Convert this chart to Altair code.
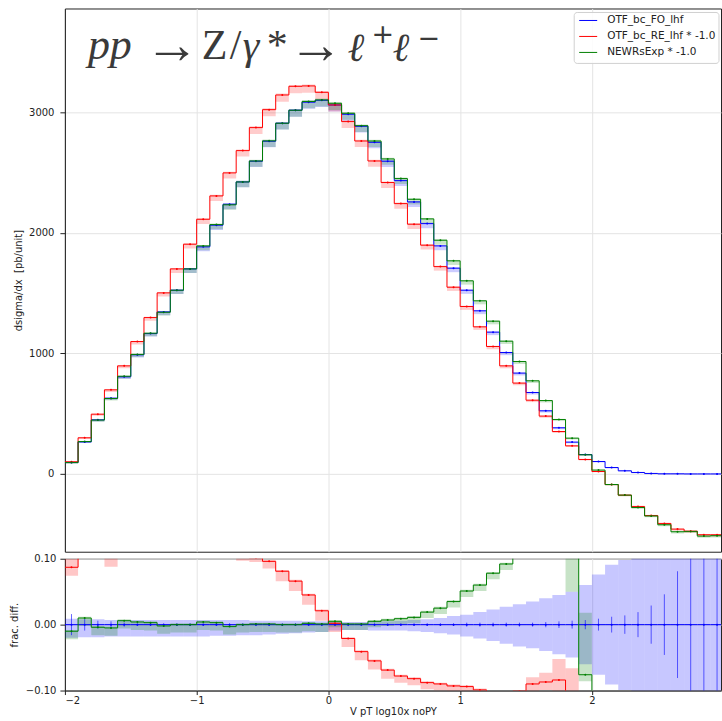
import altair as alt
import pandas as pd

# ---------------- data ----------------
series_names = ["OTF_bc_FO_lhf", "OTF_bc_RE_lhf * -1.0", "NEWRsExp * -1.0"]
series_colors = ["#0000ff", "#ff0000", "#008000"]

n_bins = 50
bin_lo = [round(-2.0 + 0.1 * i, 2) for i in range(n_bins)]
bin_w = 0.1

x_ticks = [-2, -1, 0, 1, 2]
y_ticks_top = [0, 1000, 2000, 3000]
y_ticks_bot = [-0.1, -0.05, 0.0, 0.05, 0.1]

blue_vals = [94, 265, 448, 628, 805, 988, 1164, 1344, 1524, 1701,
             1884, 2064, 2238, 2423, 2595, 2761, 2910, 3018, 3085, 3101,
             3062, 2985, 2885, 2752, 2595, 2434, 2257, 2077, 1892, 1707,
             1524, 1353, 1176, 1007, 836, 675, 523, 382, 263, 160,
             102, 52, 25, 11, 3, 0, 0, -1, -1, -1]
red_vals = [100, 299, 495, 697, 896, 1098, 1297, 1502, 1701, 1906,
            2113, 2307, 2498, 2683, 2874, 3023, 3145, 3217, 3220, 3167,
            3062, 2924, 2763, 2597, 2418, 2243, 2072, 1898, 1720, 1549,
            1389, 1220, 1057, 896, 753, 611, 479, 351, 232, 119,
            19, -89, -177, -271, -346, -412, -459, -476, -506, -506]
green_vals = [93, 268, 446, 625, 810, 991, 1167, 1341, 1524, 1701,
              1892, 2069, 2233, 2423, 2597, 2764, 2910, 3018, 3091, 3104,
              3076, 2993, 2890, 2763, 2614, 2451, 2279, 2116, 1939, 1768,
              1602, 1436, 1267, 1101, 932, 772, 608, 451, 296, 158,
              31, -89, -177, -280, -350, -423, -481, -478, -517, -514]

# fractional differences (lower panel)
blue_ratio = [0.0] * n_bins
red_ratio = [0.087, 0.13, 0.106, 0.105, 0.112, 0.112, 0.114, 0.117, 0.116, 0.12,
             0.121, 0.118, 0.116, 0.104, 0.101, 0.096, 0.081, 0.066, 0.045, 0.021,
             0.002, -0.021, -0.041, -0.055, -0.069, -0.078, -0.082, -0.088, -0.090, -0.093,
             -0.094, -0.099, -0.104, -0.110, -0.101, -0.090, -0.087, -0.084, -0.118, -0.26,
             -0.5, -0.5, -0.5, -0.5, -0.5, -0.5, -0.5, -0.5, -0.5, -0.5]
green_ratio = [-0.010, 0.010, -0.004, -0.005, 0.006, 0.004, 0.003, -0.002, 0.0, 0.0,
               0.004, 0.003, -0.003, 0.0, 0.001, 0.001, 0.0, 0.0, 0.002, 0.001,
               0.005, 0.001, 0.001, 0.005, 0.007, 0.009, 0.011, 0.019, 0.025, 0.035,
               0.051, 0.060, 0.078, 0.092, 0.115, 0.14, 0.16, 0.18, 0.125, -0.076,
               -0.5, -0.5, -0.5, -0.5, -0.5, -0.5, -0.5, -0.5, -0.5, -0.5]

# band extents below / above each ratio line
red_band_dn = [0.013, 0.015, 0.005, 0.017, 0.011, 0.011, 0.012, 0.015, 0.014, 0.018,
               0.019, 0.016, 0.014, 0.007, 0.006, 0.011, 0.015, 0.015, 0.015, 0.015,
               0.013, 0.013, 0.013, 0.013, 0.013, 0.010, 0.010, 0.010, 0.010, 0.010,
               0.010, 0.010, 0.010, 0.010, 0.010, 0.012, 0.012, 0.020, 0.030, 0.05,
               0.05, 0.05, 0.05, 0.05, 0.05, 0.05, 0.05, 0.05, 0.05, 0.05]
red_band_up = [0.013, 0.002, 0.002, 0.002, 0.002, 0.002, 0.002, 0.002, 0.002, 0.002,
               0.002, 0.002, 0.002, 0.002, 0.002, 0.002, 0.002, 0.002, 0.002, 0.002,
               0.002, 0.002, 0.002, 0.002, 0.002, 0.002, 0.002, 0.002, 0.002, 0.002,
               0.002, 0.002, 0.002, 0.002, 0.002, 0.010, 0.014, 0.032, 0.052, 0.05,
               0.05, 0.05, 0.05, 0.05, 0.05, 0.05, 0.05, 0.05, 0.05, 0.05]
green_band_dn = [0.012] * 20 + [0.009] * 18 + [0.075, 0.010] + [0.05] * 10
green_band_up = [0.002] * 38 + [0.10, 0.094] + [0.05] * 10

blue_band_lo = [-0.020, -0.019, -0.019, -0.018, -0.018, -0.018, -0.018, -0.018, -0.018, -0.018,
                -0.018, -0.017, -0.017, -0.016, -0.016, -0.015, -0.014, -0.013, -0.012, -0.011,
                -0.009, -0.008, -0.008, -0.009, -0.009, -0.009, -0.010, -0.011, -0.013, -0.015,
                -0.018, -0.021, -0.025, -0.029, -0.033, -0.036, -0.040, -0.045, -0.050, -0.060,
                -0.076, -0.091, -0.099, -0.2, -0.2, -0.2, -0.2, -0.2, -0.2, -0.2]
blue_band_hi = [0.009, 0.008, 0.008, 0.007, 0.007, 0.007, 0.007, 0.007, 0.007, 0.007,
                0.007, 0.007, 0.007, 0.007, 0.006, 0.006, 0.006, 0.006, 0.005, 0.005,
                0.004, 0.004, 0.004, 0.005, 0.005, 0.006, 0.007, 0.008, 0.010, 0.013,
                0.015, 0.019, 0.023, 0.027, 0.031, 0.035, 0.040, 0.045, 0.050, 0.060,
                0.076, 0.091, 0.098, 0.2, 0.2, 0.2, 0.2, 0.2, 0.2, 0.2]
blue_err = [0.016, 0.009, 0.006, 0.005, 0.003, 0.002, 0.002, 0.002, 0.002, 0.002,
            0.002, 0.002, 0.002, 0.002, 0.002, 0.002, 0.002, 0.002, 0.002, 0.002,
            0.002, 0.002, 0.002, 0.002, 0.002, 0.002, 0.002, 0.002, 0.002, 0.002,
            0.003, 0.003, 0.003, 0.003, 0.003, 0.003, 0.004, 0.005, 0.006, 0.007,
            0.009, 0.012, 0.014, 0.019, 0.029, 0.046, 0.081, 0.2, 0.2, 0.2]

# process label "pp → Z/γ* → ℓ⁺ℓ⁻", drawn in pieces like the math text of the original
title_pieces = ["pp", "→", "Z", "/", "γ", "*", "→", "ℓ", "+", "ℓ", "−"]
title_piece_x = [23, 80, 137, 165, 178, 202, 224, 283, 307, 328, 353]
title_piece_y = [51, 55, 51, 51, 51, 51, 55, 53, 35, 53, 39]
title_piece_size = [44, 55, 42, 42, 42, 42, 55, 40, 27, 40, 27]
title_piece_font = ["Liberation Serif", "Liberation Serif", "Liberation Serif", "Liberation Serif",
                    "Liberation Serif", "Liberation Serif", "Liberation Serif", "DejaVu Serif",
                    "DejaVu Sans", "DejaVu Serif", "DejaVu Sans"]
title_piece_style = ["italic", "normal", "normal", "normal", "italic", "normal", "normal",
                     "italic", "normal", "italic", "normal"]

# legend box layout (pixels inside the upper plot area)
legend_box = [510, 4, 655, 55]
legend_row_y = [12, 28, 44]
legend_line_x = [515, 533]
legend_text_x = 543

# ---------------- tables ----------------
FONT = "DejaVu Sans"
X_DOM = [-2.0, 2.98]
TOP_DOM = [-647, 3863]
BOT_DOM = [-0.1, 0.1]
TOP_BAND_DN, TOP_BAND_UP = 0.016, 0.003  # relative band width in the upper panel

top_vals = [blue_vals, red_vals, green_vals]
ratios = [blue_ratio, red_ratio, green_ratio]

line_rows, band_rows, dot_rows = [], [], []
rline_rows, rband_rows, rdot_rows, err_rows = [], [], [], []
for s, name in enumerate(series_names):
    vals = top_vals[s]
    rat = ratios[s]
    for i in range(n_bins + 1):
        j = min(i, n_bins - 1)
        x = round(-2.0 + bin_w * i, 2)
        line_rows.append({"x": x, "y": vals[j], "grp": name, "o": i})
        rline_rows.append({"x": x, "y": rat[j], "grp": name, "o": i})
    for i in range(n_bins):
        v = vals[i]
        lo, hi = bin_lo[i], round(bin_lo[i] + bin_w, 2)
        band_rows.append({"x": lo, "x2": hi, "y": v - TOP_BAND_DN * abs(v) - 6,
                          "y2": v + TOP_BAND_UP * abs(v) + 2, "grp": name})
        dot_rows.append({"x": lo + bin_w / 2, "y": v, "grp": name})
        r = rat[i]
        if s == 0:
            blo, bhi = blue_band_lo[i], blue_band_hi[i]
        elif s == 1:
            blo, bhi = r - red_band_dn[i], r + red_band_up[i]
        else:
            blo, bhi = r - green_band_dn[i], r + green_band_up[i]
        rband_rows.append({"x": lo, "x2": hi, "y": blo, "y2": bhi, "grp": name})
        rdot_rows.append({"x": lo + bin_w / 2, "y": r, "grp": name})
    if s == 0:
        for i in range(n_bins):
            err_rows.append({"x": bin_lo[i] + bin_w / 2, "y": -blue_err[i], "y2": blue_err[i]})

line_df = pd.DataFrame(line_rows)
band_df = pd.DataFrame(band_rows)
dot_df = pd.DataFrame(dot_rows)
rline_df = pd.DataFrame(rline_rows)
rband_df = pd.DataFrame(rband_rows)
rdot_df = pd.DataFrame(rdot_rows)
err_df = pd.DataFrame(err_rows)
leg_df = pd.DataFrame({"grp": series_names, "ly": legend_row_y,
                       "lx": [legend_line_x[0]] * 3, "lx2": [legend_line_x[1]] * 3,
                       "tx": [legend_text_x] * 3})
box_df = pd.DataFrame({"bx": [legend_box[0]], "by": [legend_box[1]],
                       "bx2": [legend_box[2]], "by2": [legend_box[3]]})

W, H_TOP, H_BOT = 657, 544, 132


def grp_scale():
    return alt.Scale(domain=series_names, range=series_colors)


# ---------------- upper panel ----------------
x_top = alt.X("x:Q", scale=alt.Scale(domain=X_DOM, nice=False, zero=False),
              axis=alt.Axis(values=x_ticks, labels=False, ticks=False, domain=False,
                            title=None, grid=True))
y_top_scale = alt.Scale(domain=TOP_DOM, nice=False, zero=False)

top_band = alt.Chart(band_df).mark_rect(opacity=0.2, clip=True).encode(
    x=x_top, x2="x2:Q",
    y=alt.Y("y:Q", scale=y_top_scale), y2="y2:Q",
    fill=alt.Fill("grp:N", scale=grp_scale(), legend=None),
)
top_line = alt.Chart(line_df).mark_line(interpolate="step-after", strokeWidth=1, clip=True).encode(
    x=x_top,
    y=alt.Y("y:Q", scale=y_top_scale,
            axis=alt.Axis(values=y_ticks_top, format="d", title="dsigma/dx\u00a0 [pb/unit]",
                          titleX=-41, labelPadding=6, grid=True)),
    stroke=alt.Stroke("grp:N", scale=grp_scale(), legend=None),
    order="o:Q",
)
top_dot = alt.Chart(dot_df).mark_circle(size=4, opacity=1, clip=True).encode(
    x=x_top, y=alt.Y("y:Q", scale=y_top_scale),
    fill=alt.Fill("grp:N", scale=grp_scale(), legend=None),
)

text_layers = []
for k, piece in enumerate(title_pieces):
    piece_df = pd.DataFrame({"t": [piece], "px": [title_piece_x[k]], "py": [title_piece_y[k]]})
    text_layers.append(
        alt.Chart(piece_df).mark_text(
            align="left", baseline="alphabetic", color="#3a3a3a",
            font=title_piece_font[k], fontStyle=title_piece_style[k],
            fontSize=title_piece_size[k],
        ).encode(x=alt.X("px:Q", scale=None), y=alt.Y("py:Q", scale=None), text="t:N")
    )

# legend drawn as marks
leg_box = alt.Chart(box_df).mark_rect(
    fill="white", fillOpacity=0.85, stroke="#d0d0d0", strokeWidth=1, cornerRadius=3
).encode(x=alt.X("bx:Q", scale=None), x2="bx2:Q", y=alt.Y("by:Q", scale=None), y2="by2:Q")
leg_lines = alt.Chart(leg_df).mark_rule(strokeWidth=1).encode(
    x=alt.X("lx:Q", scale=None), x2="lx2:Q", y=alt.Y("ly:Q", scale=None),
    stroke=alt.Stroke("grp:N", scale=grp_scale(), legend=None),
)
leg_text = alt.Chart(leg_df).mark_text(
    align="left", baseline="middle", font=FONT, fontSize=10.5, color="#222"
).encode(x=alt.X("tx:Q", scale=None), y=alt.Y("ly:Q", scale=None), text="grp:N")

top = alt.layer(top_band, top_line, top_dot, *text_layers, leg_box, leg_lines, leg_text).properties(
    width=W, height=H_TOP)

# ---------------- lower panel ----------------
x_bot = alt.X("x:Q", scale=alt.Scale(domain=X_DOM, nice=False, zero=False),
              axis=alt.Axis(values=x_ticks, format="d", title="V pT log10x noPY",
                            grid=True, tickSize=4, labelPadding=1, titlePadding=1))
y_bot_scale = alt.Scale(domain=BOT_DOM, nice=False, zero=False)

bot_band = alt.Chart(rband_df).mark_rect(opacity=0.22, clip=True).encode(
    x=x_bot, x2="x2:Q",
    y=alt.Y("y:Q", scale=y_bot_scale,
            axis=alt.Axis(values=y_ticks_bot, format=".2f", title="frac. diff.",
                          titleX=-45, labelPadding=4, grid=True)),
    y2="y2:Q",
    fill=alt.Fill("grp:N", scale=grp_scale(), legend=None),
)
bot_line = alt.Chart(rline_df).mark_line(interpolate="step-after", strokeWidth=1, clip=True).encode(
    x=x_bot, y=alt.Y("y:Q", scale=y_bot_scale),
    stroke=alt.Stroke("grp:N", scale=grp_scale(), legend=None),
    order="o:Q",
)
bot_err = alt.Chart(err_df).mark_rule(color="#0000ff", strokeWidth=1, opacity=0.6, clip=True).encode(
    x=x_bot, y=alt.Y("y:Q", scale=y_bot_scale), y2="y2:Q",
)
bot_dot = alt.Chart(rdot_df).mark_circle(size=4, opacity=1, clip=True).encode(
    x=x_bot, y=alt.Y("y:Q", scale=y_bot_scale),
    fill=alt.Fill("grp:N", scale=grp_scale(), legend=None),
)
bot = alt.layer(bot_band, bot_line, bot_err, bot_dot).properties(width=W, height=H_BOT)

chart = alt.vconcat(top, bot, spacing=0).properties(
    padding={"left": 9, "top": 7, "right": 0, "bottom": 0},
    background="white",
).configure_axis(
    labelFont=FONT, labelFontSize=10, labelColor="#222",
    titleFont=FONT, titleFontSize=10, titleColor="#222", titleFontWeight="normal",
    gridColor="#e4e4e4", gridWidth=1, tickColor="#222", domainColor="#222",
).configure_view(stroke="#222", strokeWidth=1)

chart.save("out.html", embed_options={"renderer": "svg", "actions": False})
